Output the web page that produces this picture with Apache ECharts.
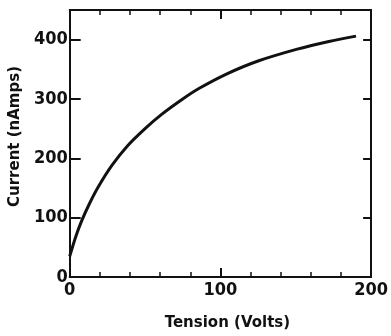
<!DOCTYPE html>
<html>
<head>
<meta charset="utf-8">
<script src="https://cdn.jsdelivr.net/npm/echarts@6/dist/echarts.min.js"></script>
<style>
  html, body { margin: 0; padding: 0; background: #fff; }
  #main { width: 391px; height: 336px; }
</style>
</head>
<body>
<div id="main"></div>
<script>
  // tension (V) vs current (nA)
  const tension = [0, 4, 8, 13, 19, 28, 38, 50, 61, 75, 86, 104, 125, 151, 172, 190];
  const current = [35, 68, 95, 123, 152, 188, 220, 250, 274, 300, 318, 342, 364, 384, 397, 406];
  const xTicks = [0, 100, 200];
  const yTicks = [0, 100, 200, 300, 400];

  const labelFont = {
    color: "#111",
    fontFamily: "'Liberation Sans Narrow', 'DejaVu Sans Condensed', sans-serif",
    fontWeight: "bold",
    fontSize: 18,
  };
  const nameFont = {
    color: "#111",
    fontFamily: "'DejaVu Sans', sans-serif",
    fontWeight: "bold",
    fontSize: 15,
  };
  const axisLine = { onZero: false, lineStyle: { color: "#111", width: 2 } };

  const chart = echarts.init(document.getElementById("main"));
  chart.setOption({
    animation: false,
    backgroundColor: "#fff",
    grid: { left: 69, right: 14, top: 10, bottom: 56 },
    xAxis: [
      {
        type: "value",
        min: 0,
        max: 200,
        interval: 100,
        name: "Tension (Volts)",
        nameLocation: "middle",
        nameGap: 39,
        nameTextStyle: { ...nameFont, padding: [0, 0, 0, 14] },
        axisLine: axisLine,
        axisTick: { inside: true, length: 9, lineStyle: { color: "#111", width: 2 } },
        minorTick: { show: true, splitNumber: 5, length: 5, lineStyle: { color: "#111", width: 1.5 } },
        splitLine: { show: false },
        axisLabel: {
          ...labelFont,
          margin: 4,
          formatter: (v) => (xTicks.includes(v) ? String(v) : ""),
        },
      },
      {
        type: "value",
        position: "top",
        min: 0,
        max: 200,
        interval: 100,
        axisLine: axisLine,
        axisTick: { inside: true, length: 9, lineStyle: { color: "#111", width: 2 } },
        minorTick: { show: true, splitNumber: 5, length: 5, lineStyle: { color: "#111", width: 1.5 } },
        splitLine: { show: false },
        axisLabel: { show: false },
      },
    ],
    yAxis: [
      {
        type: "value",
        min: 0,
        max: 450,
        interval: 100,
        name: "Current (nAmps)",
        nameLocation: "middle",
        nameGap: 38,
        nameTextStyle: { ...nameFont, padding: [0, 0, 0, 14] },
        axisLine: axisLine,
        axisTick: { inside: true, length: 11, lineStyle: { color: "#111", width: 2 } },
        splitLine: { show: false },
        axisLabel: {
          ...labelFont,
          margin: 2,
          formatter: (v) => (yTicks.includes(v) ? String(v) : ""),
        },
      },
      {
        type: "value",
        position: "right",
        min: 0,
        max: 450,
        interval: 100,
        axisLine: axisLine,
        axisTick: { inside: true, length: 8, lineStyle: { color: "#111", width: 2 } },
        splitLine: { show: false },
        axisLabel: { show: false },
      },
    ],
    series: [
      {
        type: "line",
        data: tension.map((t, i) => [t, current[i]]),
        smooth: 0.25,
        showSymbol: false,
        lineStyle: { color: "#111", width: 3 },
      },
    ],
  });
</script>
</body>
</html>
